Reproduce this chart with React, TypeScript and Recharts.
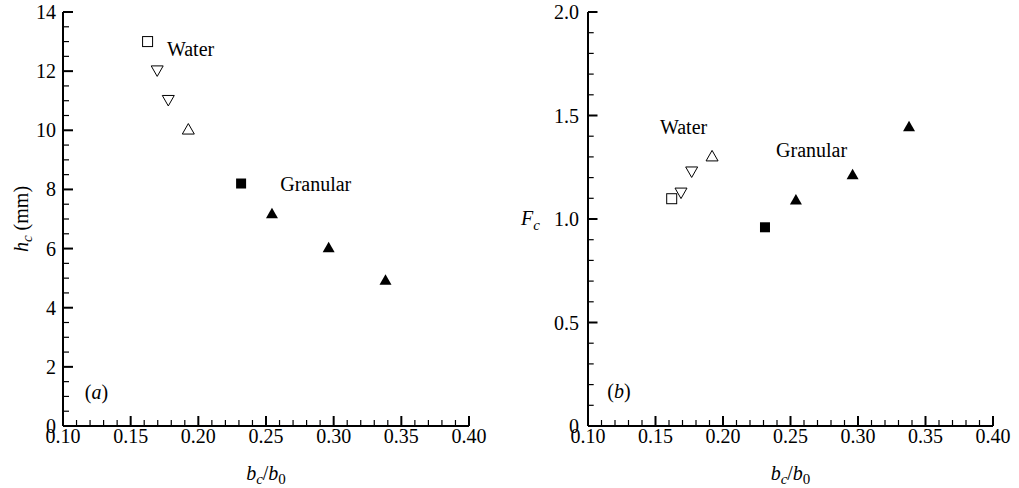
import React from 'react';
import { ScatterChart, Scatter, XAxis, YAxis, ReferenceDot } from 'recharts';

const SERIF = "'Liberation Serif', 'Times New Roman', Times, serif";

// panel (a): h_c (mm) against b_c/b_0
const waterSquareA = [{ x: 0.1625, y: 13.0 }];
const waterDownA = [{ x: 0.1696, y: 12.0 }, { x: 0.1778, y: 11.0 }];
const waterUpA = [{ x: 0.1926, y: 10.05 }];
const granSquareA = [{ x: 0.2316, y: 8.2 }];
const granUpA = [{ x: 0.2544, y: 7.2 }, { x: 0.2963, y: 6.05 }, { x: 0.3383, y: 4.95 }];

// panel (b): F_c against b_c/b_0
const waterSquareB = [{ x: 0.162, y: 1.098 }];
const waterDownB = [{ x: 0.1689, y: 1.124 }, { x: 0.1768, y: 1.226 }];
const waterUpB = [{ x: 0.1919, y: 1.306 }];
const granSquareB = [{ x: 0.2311, y: 0.96 }];
const granUpB = [{ x: 0.254, y: 1.095 }, { x: 0.296, y: 1.217 }, { x: 0.3378, y: 1.449 }];

// text notes inside the plots (x = start of text, y = middle of text)
const notesA = [
  { x: 0.1768, y: 12.75, text: 'Water' },
  { x: 0.2605, y: 8.18, text: 'Granular' },
  { x: 0.1161, y: 1.14, text: 'a' },
];
const notesB = [
  { x: 0.1533, y: 1.4435, text: 'Water' },
  { x: 0.2393, y: 1.332, text: 'Granular' },
  { x: 0.1143, y: 0.167, text: 'b' },
];

// axis ticks (majors get labels, the rest are minor marks)
const xTicks = Array.from({ length: 31 }, (_, i) => +(0.1 + i * 0.01).toFixed(2));
const yTicksA = Array.from({ length: 29 }, (_, i) => i * 0.5);
const yTicksB = Array.from({ length: 21 }, (_, i) => +(i * 0.1).toFixed(1));

const isMajorX = (v: number) => Math.round(v * 100) % 5 === 0;
const isMajorA = (v: number) => Math.abs(v % 2) < 1e-6;
const isMajorB = (v: number) => Math.round(v * 10) % 5 === 0;
const fmtB = (v: number) => (v === 0 ? '0' : v.toFixed(1));

function Marker({ cx, cy, kind }: { cx: number; cy: number; kind: string }) {
  if (cx == null || cy == null) return null;
  const w = 6;
  const h = 5.25;
  switch (kind) {
    case 'openSquare':
      return <rect x={cx - 5} y={cy - 5} width={10} height={10} fill="none" stroke="#000" strokeWidth={1} />;
    case 'filledSquare':
      return <rect x={cx - 5} y={cy - 5} width={10} height={10} fill="#000" />;
    case 'openDown':
      return (
        <polygon
          points={`${cx - w},${cy - h} ${cx + w},${cy - h} ${cx},${cy + h}`}
          fill="none"
          stroke="#000"
          strokeWidth={1}
        />
      );
    case 'openUp':
      return (
        <polygon
          points={`${cx - w},${cy + h} ${cx + w},${cy + h} ${cx},${cy - h}`}
          fill="none"
          stroke="#000"
          strokeWidth={1}
        />
      );
    default:
      return <polygon points={`${cx - w},${cy + h} ${cx + w},${cy + h} ${cx},${cy - h}`} fill="#000" />;
  }
}

const shape = (kind: string) => (p: any) => <Marker cx={p.cx} cy={p.cy} kind={kind} />;

const XTick = (p: any) => {
  const v = p.payload.value;
  const major = isMajorX(v);
  return (
    <g>
      <line x1={p.x} y1={p.y} x2={p.x} y2={p.y - (major ? 10 : 6)} stroke="#000" strokeWidth={major ? 2 : 1.2} />
      {major && (
        <text x={p.x} y={p.y + 17} textAnchor="middle" fontFamily={SERIF} fontSize={20} fill="#000">
          {v.toFixed(2)}
        </text>
      )}
    </g>
  );
};

const makeYTick = (isMajor: (v: number) => boolean, fmt: (v: number) => string, gap: number, len: number) =>
  (p: any) => {
    const v = p.payload.value;
    const major = isMajor(v);
    return (
      <g>
        <line x1={p.x} y1={p.y} x2={p.x + (major ? len : len * 0.6)} y2={p.y} stroke="#000" strokeWidth={major ? 2 : 1.2} />
        {major && (
          <text x={p.x - gap} y={p.y + 7} textAnchor="end" fontFamily={SERIF} fontSize={20} fill="#000">
            {fmt(v)}
          </text>
        )}
      </g>
    );
  };

const noteLabel = (text: string) => (p: any) => {
  const vb = p.viewBox;
  const single = text.length === 1;
  return (
    <text x={vb.x} y={vb.y} dy={7} fontFamily={SERIF} fontSize={20} fill="#000">
      {single ? (
        <>
          <tspan>(</tspan>
          <tspan fontStyle="italic">{text}</tspan>
          <tspan>)</tspan>
        </>
      ) : (
        text
      )}
    </text>
  );
};

const xLabel = (p: any) => {
  const vb = p.viewBox;
  return (
    <text x={vb.x + vb.width / 2} y={vb.y + 54} textAnchor="middle" fontFamily={SERIF} fontSize={20} fill="#000">
      <tspan fontStyle="italic">b</tspan>
      <tspan fontStyle="italic" fontSize={15} dy={4}>c</tspan>
      <tspan dy={-4}>/</tspan>
      <tspan fontStyle="italic">b</tspan>
      <tspan fontSize={15} dy={4}>0</tspan>
    </text>
  );
};

const yLabelA = (p: any) => {
  const vb = p.viewBox;
  const x = vb.x + 28;
  const y = vb.y + vb.height / 2;
  return (
    <text x={x} y={y} transform={`rotate(-90, ${x}, ${y})`} textAnchor="middle" fontFamily={SERIF} fontSize={20} fill="#000">
      <tspan fontStyle="italic">h</tspan>
      <tspan fontStyle="italic" fontSize={15} dy={4}>c</tspan>
      <tspan dy={-4}> (mm)</tspan>
    </text>
  );
};

const yLabelB = (p: any) => {
  const vb = p.viewBox;
  return (
    <text x={vb.x + 1} y={vb.y + vb.height / 2 + 6} fontFamily={SERIF} fontSize={20} fill="#000">
      <tspan fontStyle="italic">F</tspan>
      <tspan fontStyle="italic" fontSize={15} dy={5}>c</tspan>
    </text>
  );
};

const axisLine = { stroke: '#000', strokeWidth: 2 };

export default function App() {
  return (
    <div style={{ position: 'absolute', left: 0, top: 0, width: 1019, height: 488, background: '#fff' }}>
      <div style={{ position: 'absolute', left: 0, top: 0 }}>
        <ScatterChart width={520} height={488} margin={{ top: 12, right: 51, bottom: 0, left: 0 }}>
          <XAxis
            type="number"
            dataKey="x"
            domain={[0.1, 0.4]}
            ticks={xTicks}
            interval={0}
            height={62}
            tickSize={0}
            tickMargin={0}
            tick={XTick}
            axisLine={axisLine}
            label={xLabel}
            allowDataOverflow
          />
          <YAxis
            type="number"
            dataKey="y"
            domain={[0, 14]}
            ticks={yTicksA}
            interval={0}
            width={63}
            tickSize={0}
            tickMargin={0}
            tick={makeYTick(isMajorA, (v) => String(v), 7, 10)}
            axisLine={axisLine}
            label={yLabelA}
            allowDataOverflow
          />
          <Scatter data={waterSquareA} shape={shape('openSquare')} isAnimationActive={false} />
          <Scatter data={waterDownA} shape={shape('openDown')} isAnimationActive={false} />
          <Scatter data={waterUpA} shape={shape('openUp')} isAnimationActive={false} />
          <Scatter data={granSquareA} shape={shape('filledSquare')} isAnimationActive={false} />
          <Scatter data={granUpA} shape={shape('filledUp')} isAnimationActive={false} />
          {notesA.map((n) => (
            <ReferenceDot key={n.text} x={n.x} y={n.y} r={0} fill="none" stroke="none" label={noteLabel(n.text)} />
          ))}
        </ScatterChart>
      </div>
      <div style={{ position: 'absolute', left: 520, top: 0 }}>
        <ScatterChart width={499} height={488} margin={{ top: 12, right: 26, bottom: 0, left: 0 }}>
          <XAxis
            type="number"
            dataKey="x"
            domain={[0.1, 0.4]}
            ticks={xTicks}
            interval={0}
            height={62}
            tickSize={0}
            tickMargin={0}
            tick={XTick}
            axisLine={axisLine}
            label={xLabel}
            allowDataOverflow
          />
          <YAxis
            type="number"
            dataKey="y"
            domain={[0, 2]}
            ticks={yTicksB}
            interval={0}
            width={68}
            tickSize={0}
            tickMargin={0}
            tick={makeYTick(isMajorB, fmtB, 9, 9.5)}
            axisLine={axisLine}
            label={yLabelB}
            allowDataOverflow
          />
          <Scatter data={waterSquareB} shape={shape('openSquare')} isAnimationActive={false} />
          <Scatter data={waterDownB} shape={shape('openDown')} isAnimationActive={false} />
          <Scatter data={waterUpB} shape={shape('openUp')} isAnimationActive={false} />
          <Scatter data={granSquareB} shape={shape('filledSquare')} isAnimationActive={false} />
          <Scatter data={granUpB} shape={shape('filledUp')} isAnimationActive={false} />
          {notesB.map((n) => (
            <ReferenceDot key={n.text} x={n.x} y={n.y} r={0} fill="none" stroke="none" label={noteLabel(n.text)} />
          ))}
        </ScatterChart>
      </div>
    </div>
  );
}
